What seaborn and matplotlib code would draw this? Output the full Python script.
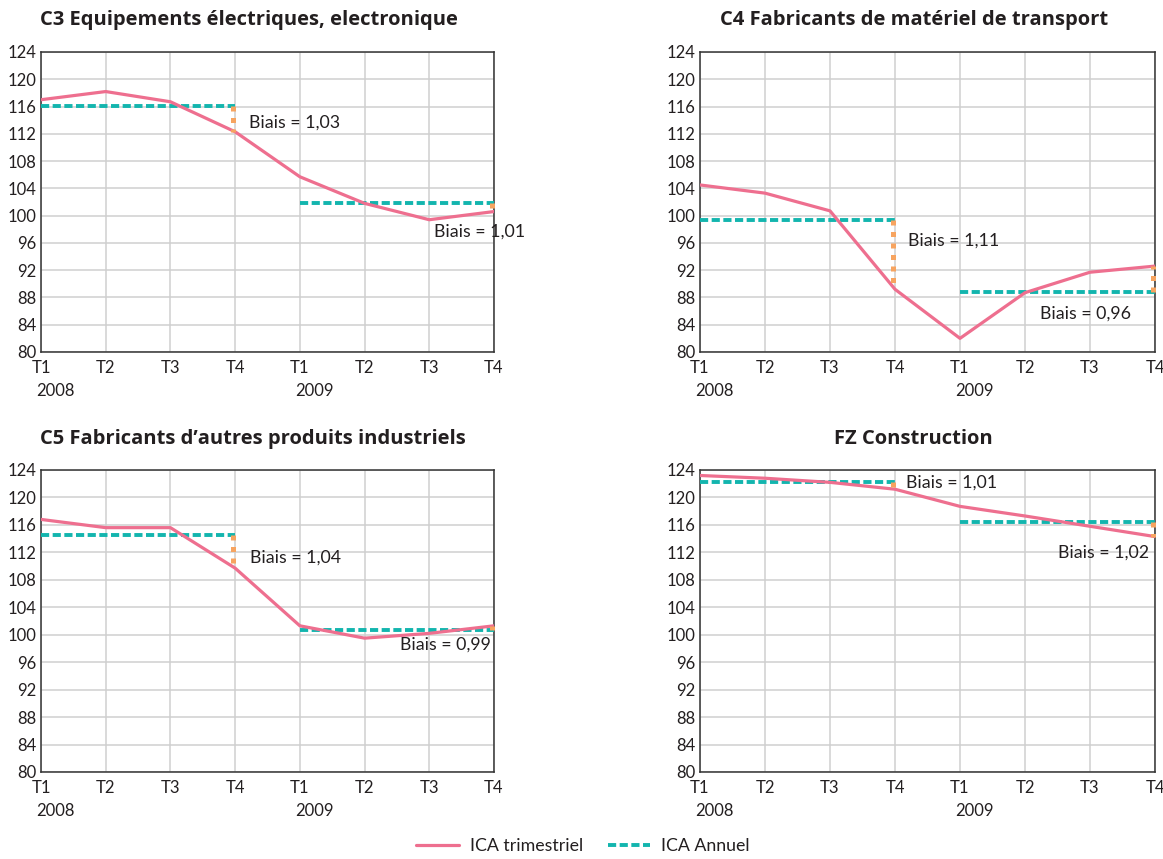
import matplotlib
matplotlib.use("Agg")
import matplotlib.pyplot as plt
import matplotlib.transforms as mtransforms
from matplotlib.lines import Line2D
import seaborn as sns
import pandas as pd

# ---------------- data ----------------
quarter_labels = ["T1", "T2", "T3", "T4", "T1", "T2", "T3", "T4"]
year_labels = ["2008", "2009"]
y_ticks = [80, 84, 88, 92, 96, 100, 104, 108, 112, 116, 120, 124]

titles = ["C3 Equipements électriques, electronique",
          "C4 Fabricants de matériel de transport",
          "C5 Fabricants d\u2019autres produits industriels",
          "FZ Construction"]

c3_trim = [117.0, 118.2, 116.7, 112.3, 105.7, 101.8, 99.4, 100.6]
c3_annual = [116.1, 101.8]
c3_bias = ["1,03", "1,01"]

c4_trim = [104.5, 103.3, 100.7, 89.2, 82.0, 88.7, 91.7, 92.6]
c4_annual = [99.4, 88.8]
c4_bias = ["1,11", "0,96"]

c5_trim = [116.8, 115.6, 115.6, 109.7, 101.3, 99.5, 100.2, 101.3]
c5_annual = [114.5, 100.7]
c5_bias = ["1,04", "0,99"]

fz_trim = [123.2, 122.8, 122.2, 121.2, 118.7, 117.3, 115.8, 114.3]
fz_annual = [122.3, 116.4]
fz_bias = ["1,01", "1,02"]

legend_labels = ["ICA trimestriel", "ICA Annuel"]

# ---------------- style ----------------
sns.set_theme(style="white")
plt.rcParams["font.family"] = ["Lato", "DejaVu Sans"]

PINK = "#EE6F8F"
TEAL = "#13B5AE"
ORANGE = "#F7A460"
GRID = "#CFCFCF"
TXT = "#231F20"

fig = plt.figure(figsize=(11.63, 8.59), dpi=100)
W, H = 1163, 859

# axes boxes in pixels: left, right, top, bottom
boxes = [(41, 494, 52, 352), (700, 1155, 52, 352),
         (41, 494, 470, 772), (700, 1155, 470, 772)]

panels = [(c3_trim, c3_annual, c3_bias),
          (c4_trim, c4_annual, c4_bias),
          (c5_trim, c5_annual, c5_bias),
          (fz_trim, fz_annual, fz_bias)]

# bias text positions (x in quarter index, y in data units) -- layout only
text_pos = [[(3.22, 113.6), (6.07, 97.6)],
            [(3.2, 96.3), (5.23, 85.7)],
            [(3.23, 111.3), (5.55, 98.5)],
            [(3.17, 122.1), (5.5, 111.9)]]

title_pos = [(40, 20, "left"), (914, 20, "center"),
             (40, 439, "left"), (913, 439, "center")]

for i, ((trim, annual, bias), (l, r, t, b)) in enumerate(zip(panels, boxes)):
    ax = fig.add_axes([l / W, 1 - b / H, (r - l) / W, (b - t) / H])
    x = list(range(len(trim)))
    df = pd.DataFrame({"x": x, "v": trim})
    # grid
    ax.set_axisbelow(True)
    ax.grid(True, color=GRID, linewidth=1.1)
    # annual lines
    for k, val in enumerate(annual):
        xs = [4 * k, 4 * k + 3]
        ax.plot(xs, [val, val], color=TEAL, linewidth=2.8,
                linestyle=(0, (2.1, 0.9)), zorder=3, solid_capstyle="butt",
                dash_capstyle="butt")
    # quarterly line
    sns.lineplot(data=df, x="x", y="v", ax=ax, color=PINK, linewidth=2.3,
                 zorder=4)
    # bias connectors
    for k, val in enumerate(annual):
        xe = 4 * k + 3 - 0.03
        ax.plot([xe, xe], [val, trim[4 * k + 3]], color=ORANGE,
                linewidth=3.6, linestyle=(0, (1, 1.3)), zorder=5,
                dash_capstyle="butt", clip_on=False)
        tx, ty = text_pos[i][k]
        ax.text(tx, ty, "Biais = " + bias[k], fontsize=12.8, color=TXT,
                ha="left", va="center", zorder=6, clip_on=False)

    ax.set_xlim(0, 7)
    ax.set_ylim(80, 124)
    ax.set_yticks(y_ticks)
    ax.set_yticklabels([str(v) for v in y_ticks], fontsize=12, color=TXT)
    ax.set_xticks(x)
    ax.set_xticklabels(quarter_labels, fontsize=12, color=TXT)
    ax.tick_params(axis="y", length=0, pad=3)
    ax.tick_params(axis="x", length=0, pad=6)
    ax.set_xlabel("")
    ax.set_ylabel("")
    for s in ax.spines.values():
        s.set_color("#333333")
        s.set_linewidth(1.1)
        s.set_visible(True)
    trans = mtransforms.blended_transform_factory(ax.transData, ax.transAxes)
    for k, yl in enumerate(year_labels):
        ax.text(4 * k - 0.07, -0.13, yl, transform=trans, fontsize=12,
                color=TXT, ha="left", va="center")

    tx, ty, ha = title_pos[i]
    fig.text(tx / W, 1 - ty / H, titles[i], fontsize=14.5, fontweight="bold",
             color=TXT, ha=ha, va="center",
             family=["Open Sans", "DejaVu Sans"])

# legend
handles = [Line2D([0], [0], color=PINK, linewidth=2.3),
           Line2D([0], [0], color=TEAL, linewidth=2.8,
                  linestyle=(0, (2.1, 0.9)))]
fig.legend(handles, legend_labels, loc="center", ncol=2,
           bbox_to_anchor=(583 / W, 1 - 846 / H), frameon=False,
           fontsize=12.8, handlelength=2.4, columnspacing=1.4,
           handletextpad=0.6, labelcolor=TXT)

fig.savefig("out.png", dpi=100)
